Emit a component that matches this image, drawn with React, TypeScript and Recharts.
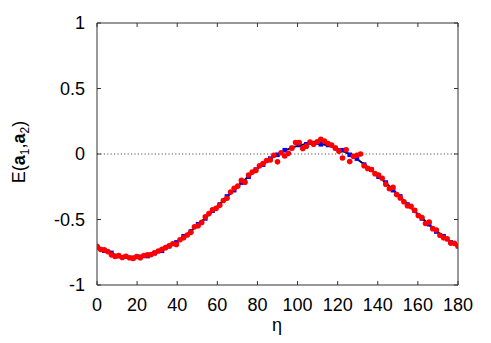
import React from 'react';
import { ComposedChart, Line, Scatter, XAxis, YAxis, ReferenceLine } from 'recharts';

const xTicks = [0, 20, 40, 60, 80, 100, 120, 140, 160, 180];
const yTicks = [-1, -0.5, 0, 0.5, 1];

const lineEta = [0, 3.6, 7.2, 10.8, 14.4, 18, 21.6, 25.2, 28.8, 32.4, 36, 39.6, 43.2, 46.8, 50.4, 54, 57.6, 61.2, 64.8, 68.4, 72, 75.6, 79.2, 82.8, 86.4, 90, 93.6, 97.2, 100.8, 104.4, 108, 111.6, 115.2, 118.8, 122.4, 126, 129.6, 133.2, 136.8, 140.4, 144, 147.6, 151.2, 154.8, 158.4, 162, 165.6, 169.2, 172.8, 176.4, 180];
const lineE = [-0.707, -0.736, -0.759, -0.776, -0.787, -0.790, -0.787, -0.776, -0.759, -0.736, -0.707, -0.672, -0.632, -0.588, -0.540, -0.489, -0.437, -0.382, -0.328, -0.273, -0.221, -0.170, -0.122, -0.078, -0.038, -0.003, 0.026, 0.049, 0.066, 0.077, 0.080, 0.077, 0.066, 0.049, 0.026, -0.003, -0.038, -0.078, -0.122, -0.170, -0.221, -0.273, -0.328, -0.382, -0.437, -0.489, -0.540, -0.588, -0.632, -0.672, -0.707];
const blueE = [-0.712, -0.738, -0.755, -0.779, -0.784, -0.793, -0.785, -0.779, -0.756, -0.739, -0.704, -0.675, -0.628, -0.592, -0.536, -0.492, -0.433, -0.386, -0.324, -0.276, -0.218, -0.173, -0.119, -0.081, -0.035, -0.006, 0.029, 0.046, 0.069, 0.074, 0.083, 0.074, 0.069, 0.046, 0.029, -0.006, -0.035, -0.081, -0.119, -0.173, -0.218, -0.276, -0.324, -0.386, -0.433, -0.492, -0.536, -0.592, -0.628, -0.675, -0.704];

const redEta = [0, 1.8, 3.6, 5.4, 7.2, 9, 10.8, 12.6, 14.4, 16.2, 18, 19.8, 21.6, 23.4, 25.2, 27, 28.8, 30.6, 32.4, 34.2, 36, 37.8, 39.6, 41.4, 43.2, 45, 46.8, 48.6, 50.4, 52.2, 54, 55.8, 57.6, 59.4, 61.2, 63, 64.8, 66.6, 68.4, 70.2, 72, 73.8, 75.6, 77.4, 79.2, 81, 82.8, 84.6, 86.4, 88.2, 90, 91.8, 93.6, 95.4, 97.2, 99, 100.8, 102.6, 104.4, 106.2, 108, 109.8, 111.6, 113.4, 115.2, 117, 118.8, 120.6, 122.4, 124.2, 126, 127.8, 129.6, 131.4, 133.2, 135, 136.8, 138.6, 140.4, 142.2, 144, 145.8, 147.6, 149.4, 151.2, 153, 154.8, 156.6, 158.4, 160.2, 162, 163.8, 165.6, 167.4, 169.2, 171, 172.8, 174.6, 176.4, 178.2, 180];
const redE = [-0.705, -0.728, -0.732, -0.745, -0.770, -0.782, -0.775, -0.790, -0.780, -0.792, -0.797, -0.783, -0.792, -0.775, -0.770, -0.768, -0.755, -0.740, -0.728, -0.715, -0.700, -0.685, -0.690, -0.655, -0.640, -0.618, -0.598, -0.555, -0.548, -0.522, -0.480, -0.455, -0.425, -0.415, -0.392, -0.355, -0.338, -0.290, -0.262, -0.245, -0.200, -0.215, -0.160, -0.138, -0.125, -0.090, -0.072, -0.050, -0.045, -0.010, -0.060, 0.010, -0.015, 0.005, 0.045, 0.088, 0.087, 0.042, 0.060, 0.092, 0.075, 0.093, 0.112, 0.098, 0.080, 0.068, 0.045, 0.022, -0.030, 0.032, -0.058, -0.018, -0.010, 0.000, -0.090, -0.110, -0.118, -0.150, -0.160, -0.185, -0.230, -0.265, -0.255, -0.310, -0.335, -0.365, -0.395, -0.400, -0.430, -0.470, -0.485, -0.530, -0.520, -0.570, -0.580, -0.620, -0.640, -0.648, -0.680, -0.682, -0.700];

const lineData = lineEta.map((eta, i) => ({ eta, e: lineE[i] }));
const blueData = lineEta.map((eta, i) => ({ eta, e: blueE[i] }));
const redData = redEta.map((eta, i) => ({ eta, e: redE[i] }));

const FONT = '"Liberation Sans", Arial, Helvetica, sans-serif';
const FRAME = '#333';

const BlueSquare = (props: any) => {
  const { cx, cy } = props;
  if (cx == null || cy == null) return null;
  return <rect x={cx - 2.3} y={cy - 2.3} width={4.6} height={4.6} fill="#0000ff" />;
};

const RedDot = (props: any) => {
  const { cx, cy } = props;
  if (cx == null || cy == null) return null;
  return <circle cx={cx} cy={cy} r={2.8} fill="#ff0000" />;
};

const YLabel = () => (
  <text
    transform="rotate(-90)"
    x={-152}
    y={25}
    textAnchor="middle"
    fontSize={18}
    fontFamily={FONT}
    fill="#000"
  >
    E(<tspan fontWeight="bold">a</tspan>
    <tspan fontSize={12} dy={4}>1</tspan>
    <tspan dy={-4}>,</tspan>
    <tspan fontWeight="bold">a</tspan>
    <tspan fontSize={12} dy={4}>2</tspan>
    <tspan dy={-4}>)</tspan>
  </text>
);

const XLabel = () => (
  <text x={277} y={331} textAnchor="middle" fontSize={18} fontFamily={FONT} fill="#000">
    η
  </text>
);

export default function App() {
  return (
    <div style={{ position: 'absolute', left: 0, top: 0, width: 491, height: 343, background: '#fff' }}>
      <ComposedChart
        width={491}
        height={343}
        margin={{ top: 22, right: 32, bottom: 0, left: 0 }}
        style={{ fontFamily: FONT }}
      >
        <XAxis
          xAxisId="bottom"
          dataKey="eta"
          type="number"
          domain={[0, 180]}
          ticks={xTicks}
          orientation="bottom"
          height={58}
          tickSize={-4}
          tickMargin={17}
          stroke={FRAME}
          tick={{ fill: '#000', fontSize: 18, fontFamily: FONT }}
          tickLine={{ stroke: FRAME }}
          axisLine={{ stroke: FRAME }}
          interval={0}
          allowDataOverflow
          label={<XLabel />}
        />
        <XAxis
          xAxisId="top"
          dataKey="eta"
          type="number"
          domain={[0, 180]}
          ticks={xTicks}
          orientation="top"
          height={1}
          tickSize={-4}
          tickMargin={0}
          tickFormatter={() => ''}
          stroke={FRAME}
          tickLine={{ stroke: FRAME }}
          axisLine={{ stroke: FRAME }}
          interval={0}
          allowDataOverflow
        />
        <YAxis
          yAxisId="left"
          dataKey="e"
          type="number"
          domain={[-1, 1]}
          ticks={yTicks}
          orientation="left"
          width={97}
          tickSize={-4}
          tickMargin={16}
          stroke={FRAME}
          tick={{ fill: '#000', fontSize: 18, fontFamily: FONT }}
          tickLine={{ stroke: FRAME }}
          axisLine={{ stroke: FRAME }}
          interval={0}
          allowDataOverflow
          label={<YLabel />}
        />
        <YAxis
          yAxisId="right"
          type="number"
          domain={[-1, 1]}
          ticks={yTicks}
          orientation="right"
          width={1}
          tickSize={-4}
          tickMargin={0}
          tickFormatter={() => ''}
          stroke={FRAME}
          tickLine={{ stroke: FRAME }}
          axisLine={{ stroke: FRAME }}
          interval={0}
          allowDataOverflow
        />
        <ReferenceLine
          xAxisId="bottom"
          yAxisId="left"
          y={0}
          stroke="#555"
          strokeWidth={1}
          strokeDasharray="1.2 2.2"
        />
        <Line
          xAxisId="bottom"
          yAxisId="left"
          data={lineData}
          dataKey="e"
          type="linear"
          stroke="#000"
          strokeWidth={2}
          dot={false}
          isAnimationActive={false}
        />
        <Scatter
          xAxisId="bottom"
          yAxisId="left"
          data={blueData}
          dataKey="e"
          shape={<BlueSquare />}
          isAnimationActive={false}
        />
        <Scatter
          xAxisId="bottom"
          yAxisId="left"
          data={redData}
          dataKey="e"
          shape={<RedDot />}
          isAnimationActive={false}
        />
      </ComposedChart>
    </div>
  );
}
